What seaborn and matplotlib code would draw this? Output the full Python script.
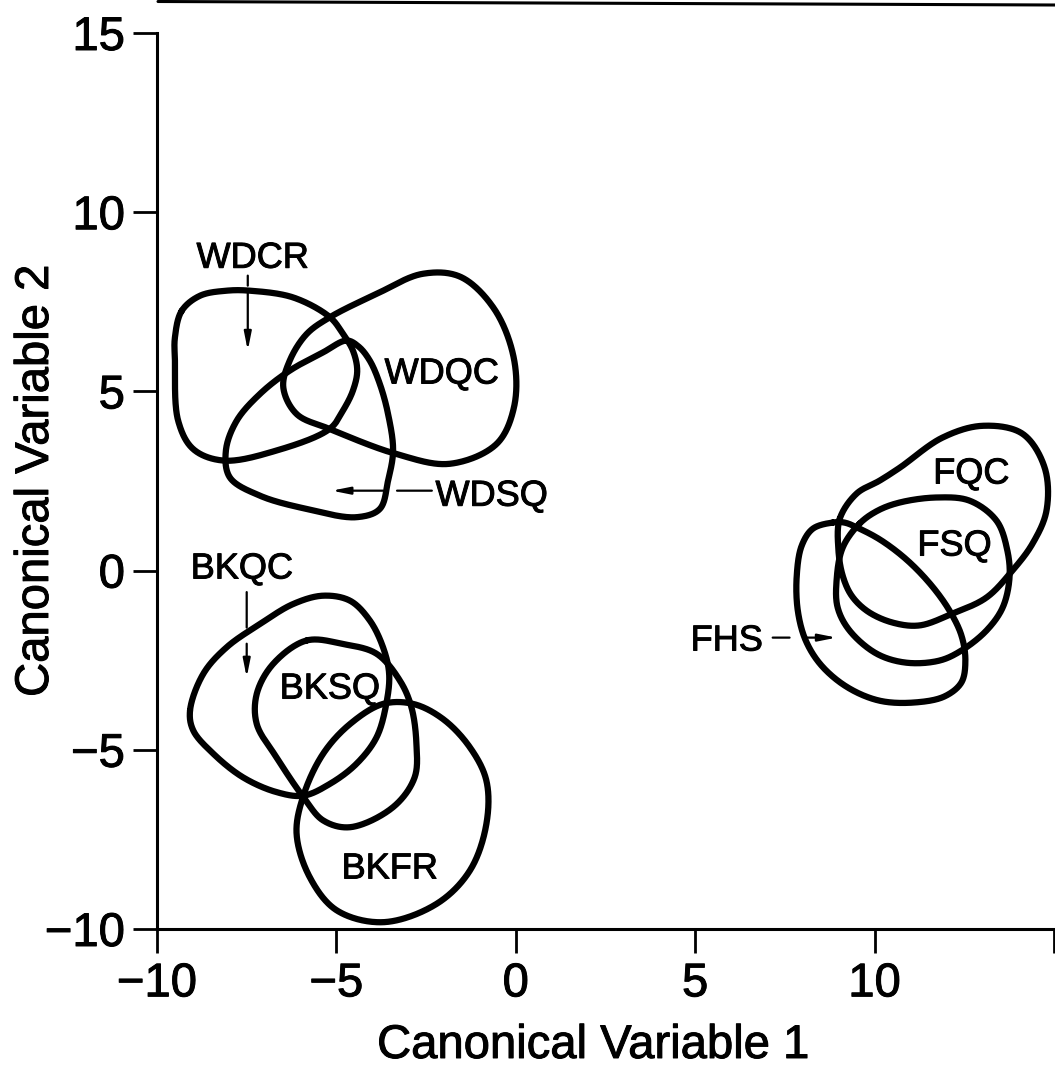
import numpy as np
import pandas as pd
import matplotlib
matplotlib.use("Agg")
import matplotlib.pyplot as plt
import matplotlib.patheffects as pe
from matplotlib.lines import Line2D
import seaborn as sns

# ---- group contours on the first two canonical variables (closed outlines) ----
wdcr_x = [-9.31, -8.80, -8.06, -7.41, -6.20, -5.18, -4.82, -4.54, -4.42, -4.54, -4.82, -5.18, -6.67, -8.15, -8.99, -9.41, -9.50, -9.50]
wdcr_y = [7.25, 7.67, 7.81, 7.81, 7.62, 7.07, 6.61, 6.14, 5.58, 5.02, 4.46, 3.96, 3.35, 3.07, 3.39, 4.18, 5.86, 6.51]

wdqc_x = [-5.18, -3.88, -2.60, -1.55, -0.60, -0.05, -0.05, -0.54, -1.84, -3.32, -5.18, -6.11, -6.48, -6.30, -5.83]
wdqc_y = [7.07, 7.72, 8.28, 8.20, 7.30, 5.90, 4.56, 3.53, 2.98, 3.25, 3.95, 4.37, 5.11, 5.86, 6.60]

wdsq_x = [-4.71, -5.37, -6.30, -7.13, -7.78, -8.08, -7.97, -7.13, -5.83, -4.44, -3.79, -3.56, -3.42, -3.56, -3.79, -4.07, -4.38]
wdsq_y = [6.42, 6.09, 5.58, 4.93, 4.18, 3.35, 2.60, 2.09, 1.72, 1.49, 1.72, 2.51, 3.35, 4.37, 5.21, 5.86, 6.25]

bkqc_x = [-9.08, -8.71, -8.06, -7.13, -6.20, -5.37, -4.62, -4.07, -3.70, -3.53, -3.61, -3.88, -4.44, -5.18, -5.92, -6.67, -7.60, -8.43, -8.99]
bkqc_y = [-3.91, -2.88, -2.14, -1.49, -0.93, -0.70, -0.84, -1.39, -2.14, -2.88, -3.72, -4.65, -5.39, -5.95, -6.28, -6.18, -5.77, -5.11, -4.46]

bksq_x = [-5.83, -4.81, -3.88, -3.23, -2.91, -2.77, -2.82, -3.42, -4.62, -5.37, -5.92, -6.67, -7.22, -7.22, -6.76]
bksq_y = [-1.95, -2.05, -2.32, -3.07, -3.81, -4.83, -5.77, -6.60, -7.16, -6.97, -6.32, -5.21, -4.28, -3.44, -2.60]

bkfr_x = [-5.92, -5.37, -4.62, -3.70, -2.86, -2.03, -1.28, -0.82, -0.82, -1.28, -2.21, -3.70, -4.99, -5.74, -6.11]
bkfr_y = [-6.28, -5.11, -4.28, -3.72, -3.72, -4.14, -4.93, -5.86, -7.07, -8.37, -9.30, -9.81, -9.48, -8.56, -7.34]

fqc_x = [9.03, 8.99, 9.11, 9.36, 9.81, 10.50, 11.25, 12.17, 13.12, 13.84, 14.40, 14.79, 14.74, 14.12, 13.01, 11.89, 10.70, 10.14, 9.50]
fqc_y = [1.45, 0.60, -0.14, -0.70, -1.14, -1.45, -1.53, -1.20, -0.75, 0.00, 0.75, 1.67, 2.87, 3.82, 4.04, 3.71, 2.87, 2.51, 2.15]

fsq_x = [9.58, 9.11, 8.94, 8.97, 9.30, 10.06, 10.89, 11.81, 12.42, 13.12, 13.57, 13.76, 13.70, 13.40, 12.65, 11.73, 10.70, 10.08]
fsq_y = [1.31, 0.64, -0.28, -1.03, -1.67, -2.32, -2.57, -2.51, -2.23, -1.67, -1.03, -0.20, 0.56, 1.39, 1.95, 2.04, 1.90, 1.67]

fhs_x = [8.83, 8.28, 7.97, 7.83, 7.86, 8.08, 8.52, 9.25, 10.14, 11.11, 11.95, 12.42, 12.53, 12.42, 12.09, 11.59, 10.92, 10.19, 9.58, 9.16]
fhs_y = [1.34, 1.17, 0.70, -0.14, -1.12, -1.95, -2.65, -3.26, -3.63, -3.68, -3.51, -3.12, -2.51, -1.81, -1.12, -0.42, 0.28, 0.84, 1.17, 1.34]

groups = ["WDCR", "WDQC", "WDSQ", "BKQC", "BKSQ", "BKFR", "FQC", "FSQ", "FHS"]
outlines = {
    "WDCR": (wdcr_x, wdcr_y), "WDQC": (wdqc_x, wdqc_y), "WDSQ": (wdsq_x, wdsq_y),
    "BKQC": (bkqc_x, bkqc_y), "BKSQ": (bksq_x, bksq_y), "BKFR": (bkfr_x, bkfr_y),
    "FQC": (fqc_x, fqc_y), "FSQ": (fsq_x, fsq_y), "FHS": (fhs_x, fhs_y),
}

# ---- axis ticks ----
x_ticks = [-10, -5, 0, 5, 10, 15]
x_tick_labels = ["\u221210", "\u22125", "0", "5", "10", ""]
y_ticks = [-10, -5, 0, 5, 10, 15]
y_tick_labels = ["\u221210", "\u22125", "0", "5", "10", "15"]

# ---- group labels (text, x, baseline y) ----
label_names = ["WDCR", "WDQC", "WDSQ", "BKQC", "BKSQ", "BKFR", "FQC", "FSQ", "FHS"]
label_x = [-7.33, -2.06, -0.67, -7.63, -5.18, -3.51, 12.70, 12.23, 5.88]
label_y = [8.45, 5.22, 1.81, -0.22, -3.57, -8.59, 2.43, 0.42, -2.23]


def smooth_closed(xs, ys, n=40, alpha=0.5):
    """Centripetal Catmull-Rom spline through a closed ring of points."""
    P = np.column_stack([xs, ys]).astype(float)
    m = len(P)
    pts = []
    for i in range(m):
        p0, p1, p2, p3 = P[(i - 1) % m], P[i], P[(i + 1) % m], P[(i + 2) % m]
        t0 = 0.0
        t1 = t0 + np.linalg.norm(p1 - p0) ** alpha
        t2 = t1 + np.linalg.norm(p2 - p1) ** alpha
        t3 = t2 + np.linalg.norm(p3 - p2) ** alpha
        t = np.linspace(t1, t2, n, endpoint=False)[:, None]
        a1 = (t1 - t) / (t1 - t0) * p0 + (t - t0) / (t1 - t0) * p1
        a2 = (t2 - t) / (t2 - t1) * p1 + (t - t1) / (t2 - t1) * p2
        a3 = (t3 - t) / (t3 - t2) * p2 + (t - t2) / (t3 - t2) * p3
        b1 = (t2 - t) / (t2 - t0) * a1 + (t - t0) / (t2 - t0) * a2
        b2 = (t3 - t) / (t3 - t1) * a2 + (t - t1) / (t3 - t1) * a3
        c = (t2 - t) / (t2 - t1) * b1 + (t - t1) / (t2 - t1) * b2
        pts.append(c)
    pts = np.vstack(pts + [pts[0][:1]])
    return pts[:, 0], pts[:, 1]


frames = []
for g in groups:
    sx, sy = smooth_closed(*outlines[g])
    frames.append(pd.DataFrame({"cv1": sx, "cv2": sy, "group": g, "step": np.arange(len(sx))}))
curves = pd.concat(frames, ignore_index=True)

sns.set_theme(style="ticks")
plt.rcParams["font.family"] = ["Liberation Sans", "DejaVu Sans"]
plt.rcParams["lines.solid_joinstyle"] = "round"
plt.rcParams["lines.solid_capstyle"] = "round"

W, H = 1055, 1067
fig = plt.figure(figsize=(W / 100, H / 100), dpi=100)
ax = fig.add_axes([157 / W, 138 / H, (1054 - 157) / W, (1034 - 138) / H])

for g in groups:
    sns.lineplot(data=curves[curves["group"] == g], x="cv1", y="cv2", sort=False,
                 estimator=None, color="black", linewidth=4.5, ax=ax, legend=False)

# slightly heavier type, like the printed original
ink = [pe.withStroke(linewidth=0.7, foreground="black")]

ax.set_xlim(-10, 15)
ax.set_ylim(-10, 15)
ax.set_xticks(x_ticks)
ax.set_xticklabels(x_tick_labels)
ax.set_yticks(y_ticks)
ax.set_yticklabels(y_tick_labels)
ax.tick_params(axis="both", direction="out", length=17, width=2.0, color="black",
               labelsize=34, labelcolor="black")
ax.tick_params(axis="x", pad=7)
ax.tick_params(axis="y", pad=6)
for lab in ax.get_xticklabels() + ax.get_yticklabels():
    lab.set_path_effects(ink)
for side in ["top", "right"]:
    ax.spines[side].set_visible(False)
for side in ["left", "bottom"]:
    ax.spines[side].set_linewidth(2.2)
    ax.spines[side].set_color("black")

ax.set_xlabel("Canonical Variable 1", fontsize=34, color="black", path_effects=ink)
ax.set_ylabel("Canonical Variable 2", fontsize=34, color="black", path_effects=ink)
ax.xaxis.label.set_va("center")
ax.yaxis.label.set_va("center")
ax.xaxis.set_label_coords((593 - 157) / 897, (929 - 1046) / 896)
ax.yaxis.set_label_coords((36 - 157) / 897, 0.5)

for name, lx, ly in zip(label_names, label_x, label_y):
    ax.text(lx, ly, name, fontsize=26, ha="center", va="baseline", color="black",
            path_effects=ink)

# pointer arrows, broken where they cross an outline
arrow_kw = dict(arrowstyle="-|>,head_length=0.9,head_width=0.18", color="black", lw=1.6,
                shrinkA=0, shrinkB=0)
line_kw = dict(arrowstyle="-", color="black", lw=1.6, shrinkA=0, shrinkB=0)
# WDCR
ax.annotate("", xy=(-7.47, 7.95), xytext=(-7.47, 8.23), arrowprops=line_kw)
ax.annotate("", xy=(-7.47, 6.14), xytext=(-7.47, 7.75), arrowprops=arrow_kw)
# WDSQ
ax.annotate("", xy=(-3.31, 2.23), xytext=(-2.34, 2.23), arrowprops=line_kw)
ax.annotate("", xy=(-5.13, 2.23), xytext=(-3.70, 2.23), arrowprops=arrow_kw)
# BKQC
ax.annotate("", xy=(-7.50, -1.59), xytext=(-7.50, -0.60), arrowprops=line_kw)
ax.annotate("", xy=(-7.50, -2.98), xytext=(-7.50, -2.04), arrowprops=arrow_kw)
# FHS
ax.annotate("", xy=(7.63, -1.87), xytext=(7.16, -1.87), arrowprops=line_kw)
ax.annotate("", xy=(8.94, -1.87), xytext=(8.11, -1.87), arrowprops=arrow_kw)

# rule across the top of the page
fig.add_artist(Line2D([158 / W, 1.0], [1 - 1.5 / H, 1 - 5 / H], transform=fig.transFigure,
                      color="black", lw=2.2))

fig.savefig("out.png", dpi=100, facecolor="white")
